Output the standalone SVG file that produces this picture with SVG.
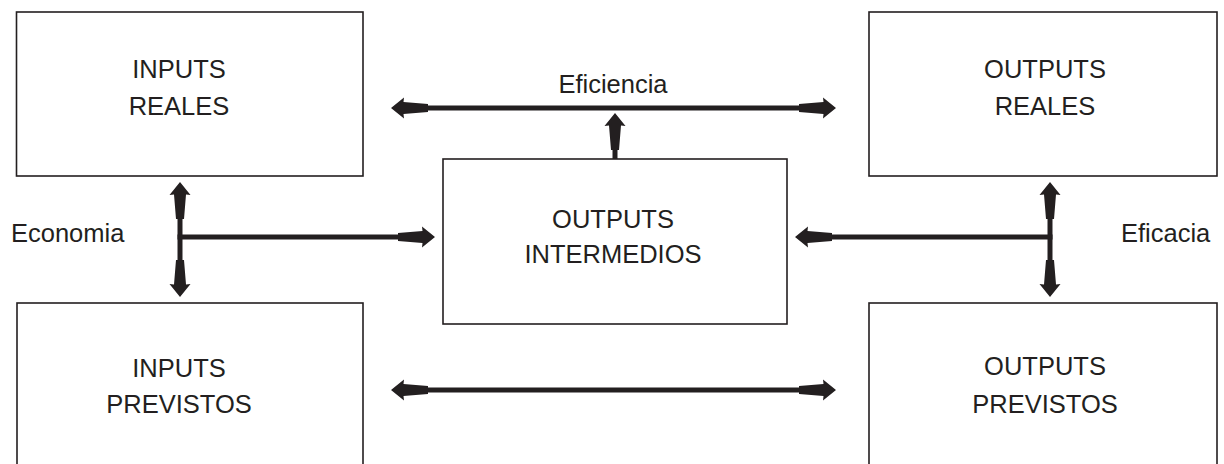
<svg xmlns="http://www.w3.org/2000/svg" width="1224" height="464" viewBox="0 0 1224 464">
<style>
.box{fill:#fff;stroke:#231f20;stroke-width:1.6}
.t{font-family:"Liberation Sans",Arial,sans-serif;font-size:25.5px;fill:#231f20;text-anchor:middle}
.lbl{font-family:"Liberation Sans",Arial,sans-serif;font-size:25.5px;fill:#231f20}
.c{stroke:#231f20;stroke-width:5;fill:none}
.a{marker-end:url(#ah)}
.b{marker-start:url(#ah);marker-end:url(#ah)}
</style>
<defs>
<marker id="ah" markerUnits="userSpaceOnUse" viewBox="-10 -12 44 24" refX="0" refY="0" markerWidth="44" markerHeight="24" orient="auto-start-reverse" overflow="visible">
<path d="M30,0 L17,-10.5 L17.5,-6 L-7,-4 L-7,4 L17.5,6 L17,10.5 Z" fill="#231f20"/>
</marker>
</defs>
<rect width="1224" height="464" fill="#fff"/>
<g id="inputs-reales">
<rect class="box" x="16.5" y="12" width="346.5" height="164"/>
<text class="t" x="179" y="78">INPUTS</text>
<text class="t" x="179" y="115">REALES</text>
</g>
<g id="outputs-reales">
<rect class="box" x="869" y="12" width="348" height="164"/>
<text class="t" x="1045" y="78">OUTPUTS</text>
<text class="t" x="1045" y="115">REALES</text>
</g>
<g id="outputs-intermedios">
<rect class="box" x="443" y="159" width="344" height="165"/>
<text class="t" x="613" y="228">OUTPUTS</text>
<text class="t" x="613" y="263">INTERMEDIOS</text>
</g>
<g id="inputs-previstos">
<rect class="box" x="17" y="303" width="346" height="180"/>
<text class="t" x="179" y="377">INPUTS</text>
<text class="t" x="179" y="413">PREVISTOS</text>
</g>
<g id="outputs-previstos">
<rect class="box" x="869" y="303" width="348" height="180"/>
<text class="t" x="1045" y="375">OUTPUTS</text>
<text class="t" x="1045" y="413">PREVISTOS</text>
</g>
<g id="labels">
<text class="lbl" x="11" y="242">Economia</text>
<text class="lbl" x="1121" y="242">Eficacia</text>
<text class="t" x="613" y="93">Eficiencia</text>
</g>
<g id="connectors">
<line class="c b" x1="180" y1="212" x2="180" y2="267"/>
<line class="c a" x1="177.5" y1="237" x2="405" y2="237"/>
<line class="c b" x1="1050" y1="212" x2="1050" y2="267"/>
<line class="c a" x1="1052.5" y1="237" x2="825" y2="237"/>
<line class="c b" x1="421" y1="108" x2="806" y2="108"/>
<line class="c a" x1="615" y1="159" x2="615" y2="143"/>
<line class="c b" x1="421" y1="390" x2="806" y2="390"/>
</g>
</svg>
